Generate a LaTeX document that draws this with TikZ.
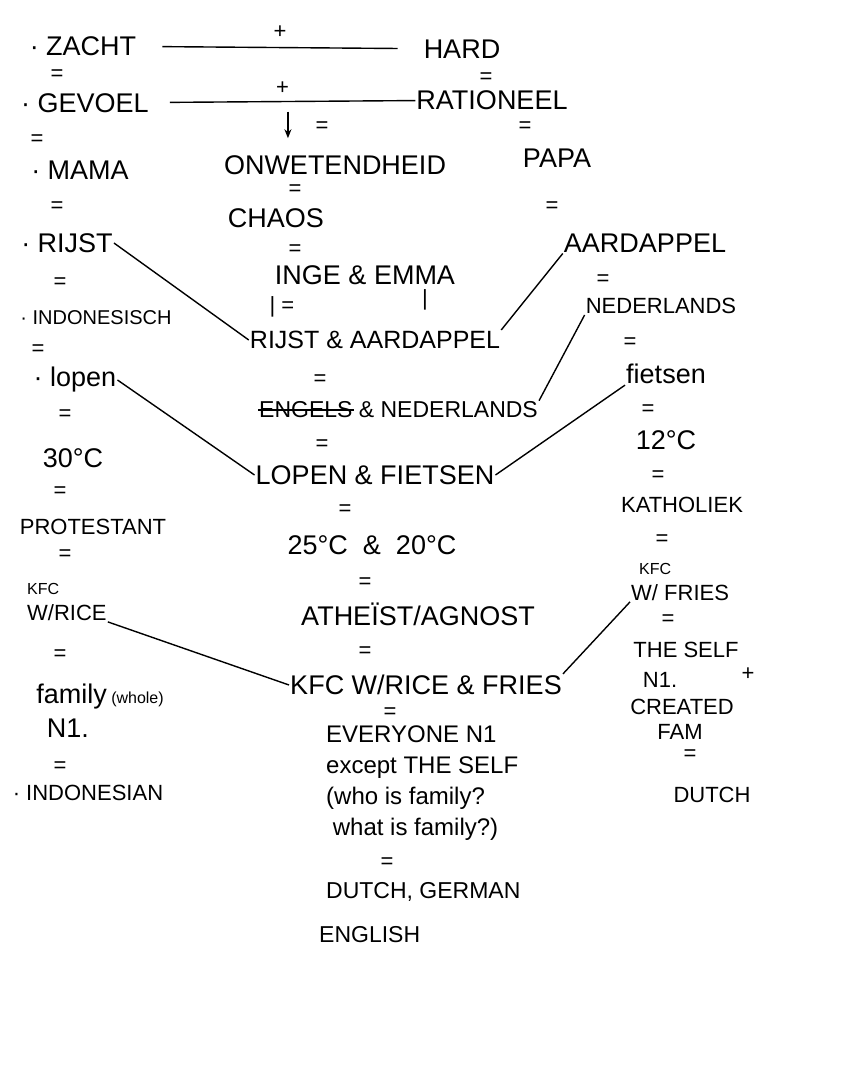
\documentclass[tikz,border=0pt]{standalone}
\usepackage{fontspec}
\setmainfont{Liberation Sans}
\usetikzlibrary{arrows.meta,positioning}
\tikzset{
  word/.style={ font=\fontsize{27}{31}\selectfont, inner sep=1pt }
}
\tikzset{
  smallword/.style={ font=\fontsize{22}{26}\selectfont, inner sep=1pt }
}
\tikzset{
  eq/.style={ font=\fontsize{22}{24}\selectfont, inner sep=0pt }
}
\tikzset{
  link/.style={ line width=1.4pt }
}
\newcommand{\smalltext}{\fontsize{16}{20}\selectfont}

\begin{document}
\begin{tikzpicture}[x=1pt, y=-1pt]
      \useasboundingbox (0,0) rectangle (844,1091);
      % left column
      \node[word] (zacht) at (83, 46) {· ZACHT};
      \node[eq] (eqL1) at (57, 75) {=};
      \node[word] (gevoel) at (85, 103) {· GEVOEL};
      \node[eq] (eqL2) at (37, 140) {=};
      \node[word] (mama) at (80, 170) {· MAMA};
      \node[eq] (eqL3) at (57, 207) {=};
      \node[word] (rijst) at (67, 243) {· RIJST};
      \node[eq] (eqL4) at (60, 283) {=};
      \node[smallword, font=\fontsize{20}{24}\selectfont] (indo) at (96, 318) {· INDONESISCH};
      \node[eq] (eqL5) at (38, 350) {=};
      \node[word] (lopen) at (75, 380) {· lopen};
      \node[eq] (eqL6) at (65, 415) {=};
      \node[word] (hot) at (73, 458) {30°C};
      \node[eq] (eqL7) at (60, 492) {=};
      \node[smallword] (prot) at (93, 527) {PROTESTANT};
      \node[eq] (eqL8) at (65, 555) {=};
      \node[smallword, align=left, anchor=west] (kfcL) at (26, 602) {{\smalltext KFC}\\W/RICE};
      \node[eq] (eqL9) at (60, 655) {=};
      \node[word] (family) at (100, 697) {family\,{\smalltext (whole)}};
      \node[word] (nL) at (68, 728) {N1.};
      \node[eq] (eqL10) at (60, 767) {=};
      \node[smallword] (indon) at (88, 793) {· INDONESIAN};

      % right column
      \node[word] (hard) at (462, 49) {HARD};
      \node[eq] (eqR1) at (486, 78) {=};
      \node[word] (ration) at (492, 100) {RATIONEEL};
      \node[eq] (eqR2) at (525, 127) {=};
      \node[word] (papa) at (557, 158) {PAPA};
      \node[eq] (eqR3) at (552, 207) {=};
      \node[word] (aard) at (645, 243) {AARDAPPEL};
      \node[eq] (eqR4) at (603, 280) {=};
      \node[smallword] (nedR) at (661, 306) {NEDERLANDS};
      \node[eq] (eqR5) at (630, 343) {=};
      \node[word] (fiets) at (666, 374) {fietsen};
      \node[eq] (eqR6) at (648, 410) {=};
      \node[word] (cold) at (666, 440) {12°C};
      \node[eq] (eqR7) at (658, 476) {=};
      \node[smallword] (kath) at (682, 505) {KATHOLIEK};
      \node[eq] (eqR8) at (662, 540) {=};
      \node[smallword, align=left, anchor=west] (kfcR) at (630, 582) {\hspace{8pt}{\smalltext KFC}\\W/ FRIES};
      \node[eq] (eqR9) at (668, 620) {=};
      \node[smallword] (self) at (686, 650) {THE SELF};
      \node[eq] (plusR) at (748, 674) {+};
      \node[smallword] (nR) at (660, 680) {N1.};
      \node[smallword] (created) at (682, 707) {CREATED};
      \node[smallword] (fam) at (680, 732) {FAM};
      \node[eq] (eqR10) at (690, 755) {=};
      \node[smallword] (dutchR) at (712, 795) {DUTCH};

      % middle column
      \draw[link, shorten <=25pt, shorten >=25pt] (zacht) -- node[eq, above=8pt] (plus1) {+} (hard);
      \draw[link, shorten <=20pt] (gevoel) -- node[eq, above=6pt] (plus2) {+} coordinate[pos=0.52] (mid) (ration);
      \node[word] (onw) at (335, 165) {ONWETENDHEID};
      \draw[link, line width=2pt, -{Stealth[length=9pt, width=7pt]}, shorten <=10pt, shorten >=16pt] (mid) -- (mid |- onw.north);
      \node[eq] (eqA) at (322, 127) {=};
      \node[eq] (eqM1) at (295, 190) {=};
      \node[word] (chaos) at (276, 218) {CHAOS};
      \node[eq] (eqM2) at (295, 250) {=};
      \node[word] (inge) at (365, 275) {INGE \& EMMA};
      \node[eq] (barA) at (282, 307) {| =};
      \node[eq] (barB) at (425, 300) {|};
      \node[word, font=\fontsize{25}{29}\selectfont] (rijstM) at (375, 340) {RIJST \& AARDAPPEL};
      \node[eq] (eqM3) at (320, 380) {=};
      \node[word, anchor=west, font=\fontsize{23}{27}\selectfont] (engA) at (258, 410) {ENGELS};
      \node[word, right=4pt of engA, font=\fontsize{23}{27}\selectfont] (engB) {\& NEDERLANDS};
      \draw[link] (engA.west) -- (engA.east);
      \node[eq] (eqM4) at (322, 445) {=};
      \node[word] (lopenM) at (375, 475) {LOPEN \& FIETSEN};
      \node[eq] (eqM5) at (345, 510) {=};
      \node[word] (temp) at (372, 545) {25°C \ \& \ 20°C};
      \node[eq] (eqM6) at (365, 583) {=};
      \node[word] (atheist) at (418, 614) {ATHEÏST/AGNOST};
      \node[eq] (eqM7) at (365, 652) {=};
      \node[word] (kfcM) at (426, 685) {KFC W/RICE \& FRIES};
      \node[eq] (eqM8) at (390, 713) {=};
      \node[word, align=left, anchor=north west, font=\fontsize{24}{31}\selectfont]
        (everyone) at (325, 725) {EVERYONE N1\\except THE SELF\\(who is family?\\\ what is family?)};
      \node[eq] (eqM9) at (387, 863) {=};
      \node[word, anchor=west, font=\fontsize{23}{27}\selectfont] (dutch) at (325, 892) {DUTCH, GERMAN};
      \node[word, anchor=west, font=\fontsize{23}{27}\selectfont] (english) at (318, 935) {ENGLISH};

      % links across
      \draw[link] (rijst.east) -- (rijstM.west);
      \draw[link] (aard.south west) -- (rijstM.north east);
      \draw[link] (nedR.south west) -- (engB.north east);
      \draw[link] (lopen.east) -- (lopenM.west);
      \draw[link] (fiets.south west) -- (lopenM.east);
      \draw[link] (kfcL.south east) -- (kfcM.west);
      \draw[link] (kfcR.south west) -- (kfcM.north east);
    \end{tikzpicture}
\end{document}
